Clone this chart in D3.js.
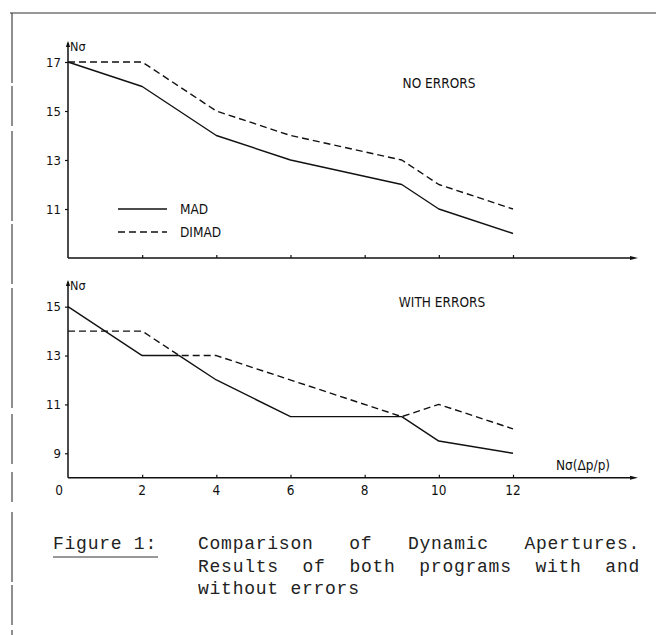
<!DOCTYPE html>
<html><head><meta charset="utf-8">
<script src="https://cdn.jsdelivr.net/npm/d3@7"></script>
<style>
html,body{margin:0;padding:0;background:#fff;}
svg{display:block;}
.lab{font-family:"DejaVu Sans Condensed","Liberation Sans Narrow",sans-serif;font-stretch:condensed;fill:#111;}
.cap{font-family:"Liberation Mono","DejaVu Sans Mono",monospace;fill:#222;}
</style></head>
<body>
<script>
// ---- data ----
const xTop = [0, 2, 4, 6, 9, 10, 12];
const madNoErrors = [17, 16, 14, 13, 12, 11, 10];
const dimadNoErrors = [17, 17, 15, 14, 13, 12, 11];
const xMadErr = [0, 2, 3, 4, 6, 9, 10, 12];
const madWithErrors = [15, 13, 13, 12, 10.5, 10.5, 9.5, 9];
const xDimadErr = [0, 2, 3, 4, 9, 10, 12];
const dimadWithErrors = [14, 14, 13, 13, 10.5, 11, 10];
const xTicks = [0, 2, 4, 6, 8, 10, 12];
const yTicksTop = [11, 13, 15, 17];
const yTicksBottom = [9, 11, 13, 15];
const seriesNames = ["MAD", "DIMAD"];
const panelTitles = ["NO ERRORS", "WITH ERRORS"];
const yAxisLabel = "Nσ";
const xAxisLabel = "Nσ(Δp/p)";
const captionHead = "Figure 1:";
const captionLines = [["Comparison", "of", "Dynamic", "Apertures."],
                      ["Results", "of", "both", "programs", "with", "and"],
                      ["without", "errors"]];

const W = 656, H = 635;
const svg = d3.select("body").append("svg").attr("width", W).attr("height", H);

// page border (scan)
svg.append("line").attr("x1", 10).attr("x2", 656).attr("y1", 13).attr("y2", 13)
  .attr("stroke", "#333").attr("stroke-width", 1.2);
svg.append("line").attr("x1", 12).attr("x2", 12).attr("y1", 13).attr("y2", 635)
  .attr("stroke", "#333").attr("stroke-width", 1.1)
  .attr("stroke-dasharray", "70,3,40,5,90,3,60,4,120,6,50,8,30,10");

const x = d3.scaleLinear().domain([0, 12]).range([68, 513]);
const yTop = d3.scaleLinear().domain([9, 17]).range([258, 62]);
const yBot = d3.scaleLinear().domain([8, 15]).range([477.7, 306.7]);

function arrowUp(x0, y0) {
  svg.append("path").attr("d", `M${x0-2.2},${y0+6}L${x0},${y0}L${x0+2.2},${y0+6}Z`).attr("fill", "#111");
}
function arrowRight(x0, y0) {
  svg.append("path").attr("d", `M${x0-8},${y0-2}L${x0},${y0}L${x0-8},${y0+2}Z`).attr("fill", "#111");
}

function panel(y, yTicks, axisTopY, labelX) {
  const x0 = x(0), yb = y.range()[0];
  // y axis
  svg.append("line").attr("x1", x0).attr("x2", x0).attr("y1", yb).attr("y2", axisTopY + 2)
    .attr("stroke", "#111").attr("stroke-width", 1.5);
  arrowUp(x0, axisTopY);
  svg.append("text").attr("class", "lab").attr("x", x0 + 2).attr("y", axisTopY + 10)
    .attr("font-size", 12.5).text(yAxisLabel);
  // x axis
  svg.append("line").attr("x1", x0).attr("x2", 632).attr("y1", yb).attr("y2", yb)
    .attr("stroke", "#111").attr("stroke-width", 1.5);
  arrowRight(638, yb);
  // y ticks
  const gy = svg.append("g").attr("transform", `translate(${x0},0)`)
    .call(d3.axisLeft(y).tickValues(yTicks).tickSize(3).tickPadding(4).tickFormat(d3.format("d")));
  gy.select(".domain").remove();
  gy.selectAll(".tick line").attr("stroke", "#111").attr("stroke-width", 1.2);
  gy.selectAll(".tick text").attr("class", "lab").attr("font-size", 13).attr("fill", "#111");
  // x ticks (upward)
  const gx = svg.append("g").attr("transform", `translate(0,${yb})`)
    .call(d3.axisTop(x).tickValues(xTicks.filter(d => d > 0)).tickSize(3).tickFormat(""));
  gx.select(".domain").remove();
  gx.selectAll(".tick line").attr("stroke", "#111").attr("stroke-width", 1.2);
  return yb;
}

function series(xs, ys, y, dashed) {
  const line = d3.line().x((d, i) => x(xs[i])).y(d => y(d));
  svg.append("path").datum(ys).attr("d", line).attr("fill", "none")
    .attr("stroke", "#111").attr("stroke-width", 1.4)
    .attr("stroke-linejoin", "round")
    .attr("stroke-dasharray", dashed ? "7,4" : null);
}

// top panel
panel(yTop, yTicksTop, 41);
series(xTop, dimadNoErrors, yTop, true);
series(xTop, madNoErrors, yTop, false);
svg.append("text").attr("class", "lab").attr("x", 439).attr("y", 88)
  .attr("text-anchor", "middle").attr("font-size", 13.5).text(panelTitles[0]);

// legend
svg.append("line").attr("x1", 118).attr("x2", 167).attr("y1", 209).attr("y2", 209)
  .attr("stroke", "#111").attr("stroke-width", 1.4);
svg.append("line").attr("x1", 118).attr("x2", 167).attr("y1", 232).attr("y2", 232)
  .attr("stroke", "#111").attr("stroke-width", 1.4).attr("stroke-dasharray", "7,4");
svg.append("text").attr("class", "lab").attr("x", 180).attr("y", 214).attr("font-size", 13.5).text(seriesNames[0]);
svg.append("text").attr("class", "lab").attr("x", 180).attr("y", 237).attr("font-size", 13.5).text(seriesNames[1]);

// bottom panel
const yb2 = panel(yBot, yTicksBottom, 280);
series(xDimadErr, dimadWithErrors, yBot, true);
series(xMadErr, madWithErrors, yBot, false);
svg.append("text").attr("class", "lab").attr("x", 442).attr("y", 307)
  .attr("text-anchor", "middle").attr("font-size", 13.5).text(panelTitles[1]);
svg.append("text").attr("class", "lab").attr("x", 556).attr("y", 470)
  .attr("font-size", 13.5).text(xAxisLabel);
// bottom x tick labels
svg.append("g").selectAll("text").data(xTicks).join("text")
  .attr("class", "lab").attr("font-size", 13.5).attr("text-anchor", "middle")
  .attr("x", d => d === 0 ? x(d) - 9 : x(d)).attr("y", 495)
  .text(d => d);

// caption
const capFont = 18, capLS = 0.75;
svg.append("text").attr("class", "cap").attr("x", 53).attr("y", 549)
  .attr("font-size", capFont).attr("letter-spacing", capLS).text(captionHead);
svg.append("line").attr("x1", 53).attr("x2", 158).attr("y1", 557).attr("y2", 557)
  .attr("stroke", "#333").attr("stroke-width", 1);
const capLeft = 198, capRight = 640;
captionLines.forEach((words, li) => {
  const yy = 549 + li * 22.5;
  const g = svg.append("g");
  const nodes = words.map(w => g.append("text").attr("class", "cap")
    .attr("font-size", capFont).attr("letter-spacing", capLS).attr("y", yy).text(w));
  const widths = nodes.map(n => n.node().getComputedTextLength());
  const total = d3.sum(widths);
  const justify = li < captionLines.length - 1;
  const gap = justify ? (capRight - capLeft - total) / (words.length - 1) : 11.5;
  let cx = capLeft;
  nodes.forEach((n, i) => { n.attr("x", cx); cx += widths[i] + gap; });
});
</script>
</body></html>
